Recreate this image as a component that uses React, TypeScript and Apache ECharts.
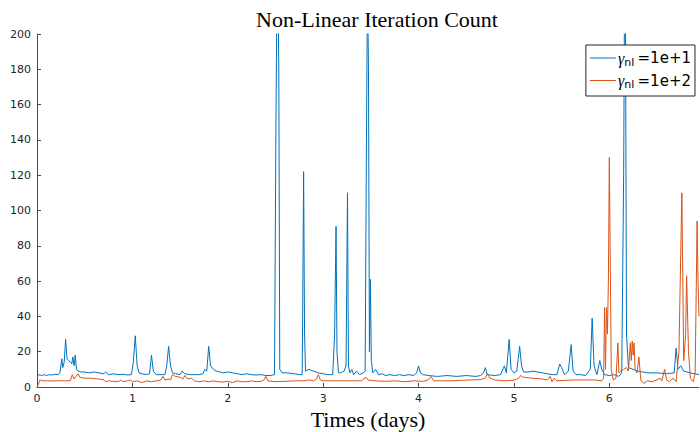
import React, { useEffect, useRef } from "react";
import * as echarts from "echarts";

const TITLE = "Non-Linear Iteration Count";
const X_NAME = "Times (days)";
const SERIES_NAMES = ["gamma1e+1", "gamma1e+2"];
const SERIES_LABELS = ["=1e+1", "=1e+2"];
const SERIES_COLORS = ["#0072BD", "#D95319"];

// gamma_nl = 1e+1 : [day, iterations]
const blueData: number[][] = [
  [0, 6], [0.02, 7], [0.05, 6.5], [0.08, 7], [0.1, 6.5], [0.13, 7], [0.16, 6.8], [0.19, 7.2], [0.22, 7],
  [0.24, 8], [0.26, 16], [0.27, 11], [0.285, 14], [0.3, 27], [0.315, 16], [0.33, 15], [0.35, 14], [0.365, 13],
  [0.375, 17], [0.39, 12], [0.4, 18], [0.415, 10], [0.43, 9], [0.46, 8.5], [0.5, 8.5], [0.55, 8], [0.6, 8.5],
  [0.65, 8], [0.7, 7.5], [0.72, 8.5], [0.75, 7], [0.8, 7.5], [0.85, 7], [0.9, 7.2], [0.95, 6.8], [0.99, 7],
  [1.01, 14], [1.03, 29], [1.05, 12], [1.07, 8], [1.1, 7.5], [1.15, 7], [1.18, 7.5], [1.2, 18], [1.22, 9],
  [1.25, 7], [1.3, 7], [1.34, 7], [1.36, 12], [1.38, 23], [1.4, 12], [1.42, 8], [1.45, 7.5], [1.5, 7],
  [1.52, 9], [1.55, 7.5], [1.6, 7], [1.65, 7], [1.7, 7], [1.74, 7.5], [1.76, 10], [1.78, 9], [1.8, 23],
  [1.82, 12], [1.85, 10], [1.88, 9], [1.92, 8.5], [1.95, 8], [2.0, 8.5], [2.05, 8], [2.1, 7.5], [2.15, 7],
  [2.2, 7.5], [2.25, 7], [2.3, 6.8], [2.35, 7], [2.4, 6.5], [2.45, 6.5], [2.49, 7], [2.505, 150], [2.515, 220],
  [2.525, 230], [2.535, 180], [2.545, 10], [2.57, 8], [2.62, 8], [2.7, 7.5], [2.75, 7], [2.78, 7], [2.785, 40],
  [2.795, 122], [2.805, 30], [2.815, 9], [2.85, 10], [2.9, 9], [2.95, 8], [3.0, 7.5], [3.05, 7], [3.1, 7],
  [3.12, 30], [3.135, 91], [3.145, 20], [3.16, 8], [3.18, 8], [3.22, 9], [3.24, 12], [3.255, 110], [3.265, 12],
  [3.28, 8], [3.3, 10], [3.32, 7], [3.35, 9], [3.38, 7], [3.42, 8], [3.44, 9], [3.455, 150], [3.465, 230],
  [3.475, 180], [3.485, 20], [3.495, 61], [3.505, 15], [3.52, 8], [3.55, 10], [3.58, 7], [3.62, 7.5],
  [3.65, 6.5], [3.7, 7], [3.75, 6.5], [3.8, 7], [3.85, 6.5], [3.9, 7], [3.95, 6.5], [3.98, 8], [4.0, 12],
  [4.02, 8], [4.05, 7], [4.1, 6.5], [4.2, 6], [4.3, 6.5], [4.4, 6], [4.5, 6.5], [4.6, 6], [4.65, 6.5],
  [4.68, 8], [4.7, 11], [4.72, 7], [4.8, 6.5], [4.86, 7], [4.9, 12], [4.92, 8], [4.95, 27], [4.97, 10],
  [5.0, 8], [5.03, 9], [5.06, 23], [5.08, 12], [5.1, 8.5], [5.15, 8.5], [5.2, 9], [5.3, 8], [5.4, 7],
  [5.45, 7], [5.48, 13], [5.5, 11], [5.53, 7], [5.57, 9], [5.6, 24], [5.62, 9], [5.65, 7], [5.7, 7],
  [5.75, 6.5], [5.8, 10], [5.82, 39], [5.84, 12], [5.87, 7], [5.9, 15], [5.92, 10], [5.95, 7], [6.0, 6.5],
  [6.05, 7], [6.1, 6], [6.13, 8], [6.15, 120], [6.16, 230], [6.17, 200], [6.18, 30], [6.2, 11], [6.25, 10],
  [6.3, 9], [6.35, 8.5], [6.4, 8], [6.5, 8], [6.6, 7.5], [6.68, 8], [6.7, 22], [6.72, 10], [6.75, 12],
  [6.78, 9], [6.85, 8], [6.94, 7],
];

// gamma_nl = 1e+2 : [day, iterations]
const orangeData: number[][] = [
  [0, 0], [0.01, 1], [0.03, 4], [0.06, 3.5], [0.1, 3.5], [0.15, 3.4], [0.2, 3.5], [0.25, 3.5], [0.3, 3.5],
  [0.35, 3.6], [0.37, 7], [0.39, 4.5], [0.41, 6], [0.43, 7.5], [0.45, 5.5], [0.5, 5], [0.55, 5], [0.6, 4.8],
  [0.65, 4.5], [0.7, 4], [0.72, 3], [0.75, 3.5], [0.8, 3.2], [0.85, 3], [0.88, 4], [0.9, 3], [0.95, 3.5],
  [0.98, 4], [1.0, 3], [1.05, 3.5], [1.1, 2.5], [1.15, 3.5], [1.2, 3], [1.25, 3.5], [1.3, 4], [1.32, 6],
  [1.34, 4], [1.38, 4.5], [1.4, 4], [1.42, 7], [1.45, 6], [1.5, 5.5], [1.53, 4.5], [1.55, 6.5], [1.58, 4.5],
  [1.62, 5], [1.65, 3.5], [1.7, 3], [1.75, 3.5], [1.8, 3], [1.85, 3.5], [1.9, 3], [1.95, 2.8], [2.0, 3.2],
  [2.05, 2.5], [2.1, 3.5], [2.15, 3], [2.2, 3], [2.25, 3.5], [2.3, 3], [2.35, 3.2], [2.38, 4], [2.4, 6],
  [2.42, 3.5], [2.5, 3], [2.6, 3.2], [2.7, 3.5], [2.8, 3.5], [2.85, 4], [2.9, 3.5], [2.93, 4.5], [2.95, 7],
  [2.97, 4], [3.0, 3.5], [3.1, 3.5], [3.2, 3.5], [3.3, 3.5], [3.4, 3.5], [3.45, 5.5], [3.47, 4], [3.55, 3.5],
  [3.65, 3.2], [3.75, 3.5], [3.85, 3], [3.95, 3.5], [4.05, 3.2], [4.1, 4], [4.13, 6], [4.16, 3.5], [4.25, 3.5],
  [4.35, 3.5], [4.45, 3.8], [4.55, 4], [4.65, 4.2], [4.7, 5], [4.72, 7.5], [4.75, 5], [4.8, 4], [4.9, 3.5],
  [5.0, 3.8], [5.05, 5], [5.07, 6.5], [5.1, 5.5], [5.2, 5], [5.3, 4.5], [5.35, 4], [5.38, 6], [5.4, 3],
  [5.42, 5], [5.45, 3.5], [5.55, 3.8], [5.65, 4], [5.75, 4], [5.85, 4], [5.92, 3.5], [5.94, 5], [5.95, 45],
  [5.96, 10], [5.97, 45], [5.98, 30], [5.99, 60], [6.0, 130], [6.01, 70], [6.02, 10], [6.04, 4], [6.07, 5],
  [6.09, 25], [6.1, 8], [6.12, 9], [6.15, 10], [6.18, 11], [6.2, 9], [6.22, 25], [6.23, 15], [6.24, 26],
  [6.25, 18], [6.26, 25], [6.27, 10], [6.29, 8], [6.31, 17], [6.33, 4], [6.36, 2], [6.4, 3.5], [6.45, 3],
  [6.5, 4], [6.53, 5], [6.55, 3.5], [6.58, 10], [6.6, 4], [6.63, 3], [6.67, 5], [6.7, 3], [6.73, 20],
  [6.76, 110], [6.78, 15], [6.8, 30], [6.81, 63], [6.83, 20], [6.85, 5], [6.88, 3], [6.9, 8], [6.92, 94],
  [6.93, 60], [6.94, 40],
];

const X_MIN = 0;
const X_MAX = 6.94;
const Y_MIN = 0;
const Y_MAX = 200;

export default function App() {
  const ref = useRef<HTMLDivElement>(null);
  useEffect(() => {
    document.body.style.margin = "0";
    if (!ref.current) return;
    const chart = echarts.init(ref.current, undefined, { renderer: "svg" });
    const axisColor = "#4d4d4d";
    const labelColor = "#262626";
    chart.setOption({
      animation: false,
      backgroundColor: "#ffffff",
      title: {
        text: TITLE,
        left: 372,
        textAlign: "center",
        top: 3,
        textStyle: {
          fontFamily: "Liberation Serif",
          fontWeight: "normal",
          fontSize: 22,
          color: "#000",
        },
      },
      grid: {
        left: 37,
        right: 1,
        top: 34,
        bottom: 45,
        containLabel: false,
        outerBoundsMode: "none",
      },
      legend: {
        orient: "vertical",
        right: 5,
        top: 45,
        padding: [5, 4, 6, 4],
        itemGap: 5,
        itemWidth: 26,
        itemHeight: 1,
        icon: "rect",
        borderColor: "#262626",
        borderWidth: 1,
        borderRadius: 0,
        backgroundColor: "#ffffff",
        data: SERIES_NAMES,
        formatter: (name: string) => {
          const i = SERIES_NAMES.indexOf(name);
          return `{g|γ}{s|nl} {v|${SERIES_LABELS[i]}}`;
        },
        textStyle: {
          padding: [0, 0, 0, -3],
          rich: {
            g: { fontFamily: "Liberation Serif", fontStyle: "italic", fontSize: 16, color: "#000" },
            s: { fontFamily: "DejaVu Sans", fontSize: 11, color: "#000", padding: [8, 0, 0, 0] },
            v: { fontFamily: "DejaVu Sans", fontSize: 15, color: "#000" },
          },
        },
      },
      xAxis: {
        type: "value",
        min: X_MIN,
        max: X_MAX,
        interval: 1,
        name: X_NAME,
        nameLocation: "middle",
        nameGap: 21,
        nameTextStyle: {
          fontFamily: "Liberation Serif",
          fontSize: 22,
          color: "#000",
          verticalAlign: "top",
        },
        axisLine: { show: true, onZero: false, lineStyle: { color: axisColor, width: 1 } },
        axisTick: { show: true, inside: true, length: 4, lineStyle: { color: axisColor } },
        axisLabel: {
          showMaxLabel: false,
          margin: 6,
          fontFamily: "DejaVu Sans",
          fontSize: 11,
          color: labelColor,
        },
        splitLine: { show: false },
      },
      yAxis: {
        type: "value",
        min: Y_MIN,
        max: Y_MAX,
        interval: 20,
        axisLine: { show: true, lineStyle: { color: axisColor, width: 1 } },
        axisTick: { show: true, inside: true, length: 4, lineStyle: { color: axisColor } },
        axisLabel: { margin: 6, fontFamily: "DejaVu Sans", fontSize: 11, color: labelColor },
        splitLine: { show: false },
      },
      series: [
        {
          name: SERIES_NAMES[0],
          type: "line",
          data: blueData,
          showSymbol: false,
          clip: true,
          color: SERIES_COLORS[0],
          lineStyle: { color: SERIES_COLORS[0], width: 1 },
          z: 2,
        },
        {
          name: SERIES_NAMES[1],
          type: "line",
          data: orangeData,
          showSymbol: false,
          clip: true,
          color: SERIES_COLORS[1],
          lineStyle: { color: SERIES_COLORS[1], width: 1 },
          z: 3,
        },
      ],
    });
    return () => chart.dispose();
  }, []);
  return <div ref={ref} style={{ width: 700, height: 432 }} />;
}
